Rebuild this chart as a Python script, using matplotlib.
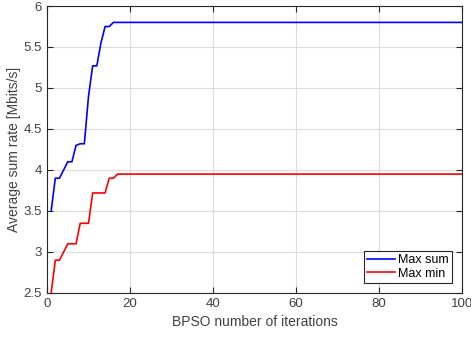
import numpy as np
import matplotlib.pyplot as plt

plt.rcParams['font.family'] = ['Liberation Sans', 'DejaVu Sans']

# iteraciones 1..100
iters = np.arange(1, 101)

max_sum_start = [3.5, 3.9, 3.9, 4.0, 4.1, 4.1, 4.3, 4.32, 4.32, 4.9,
                 5.27, 5.27, 5.55, 5.75, 5.75, 5.8]
max_sum_final = 5.8
max_min_start = [2.5, 2.9, 2.9, 3.0, 3.1, 3.1, 3.1, 3.35, 3.35, 3.35,
                 3.72, 3.72, 3.72, 3.72, 3.9, 3.9, 3.95]
max_min_final = 3.95

max_sum = max_sum_start + [max_sum_final] * (len(iters) - len(max_sum_start))
max_min = max_min_start + [max_min_final] * (len(iters) - len(max_min_start))

fig = plt.figure(figsize=(4.71, 3.41), dpi=100)
ax = fig.add_axes([0.0998, 0.1408, 0.8812, 0.8416])

ax.plot(iters, max_sum, color='blue', linewidth=1.2, label='Max sum')
ax.plot(iters, max_min, color='red', linewidth=1.2, label='Max min')

ax.set_xlim(0, 100)
ax.set_ylim(2.5, 6)
ax.set_xticks([0, 20, 40, 60, 80, 100])
ax.set_yticks([2.5, 3, 3.5, 4, 4.5, 5, 5.5, 6])
ax.set_yticklabels(['2.5', '3', '3.5', '4', '4.5', '5', '5.5', '6'])
ax.grid(True, color='#dcdcdc', linewidth=0.8)
ax.set_axisbelow(True)
ax.tick_params(direction='in', top=True, right=True, labelsize=9.5,
               length=4, width=0.8, colors='#262626', labelcolor='#404040')
for s in ax.spines.values():
    s.set_color('#262626')
    s.set_linewidth(0.8)

ax.set_xlabel('BPSO number of iterations', fontsize=10, color='#404040')
ax.set_ylabel('Average sum rate [Mbits/s]', fontsize=10, color='#404040',
              labelpad=2)

leg = ax.legend(loc='lower right', fontsize=9, fancybox=False, framealpha=1,
                edgecolor='#262626', handlelength=2.2, borderpad=0.25,
                labelspacing=0.15, handletextpad=0.3, borderaxespad=0.8)
leg.get_frame().set_linewidth(0.8)

fig.savefig('out.png', dpi=100)
